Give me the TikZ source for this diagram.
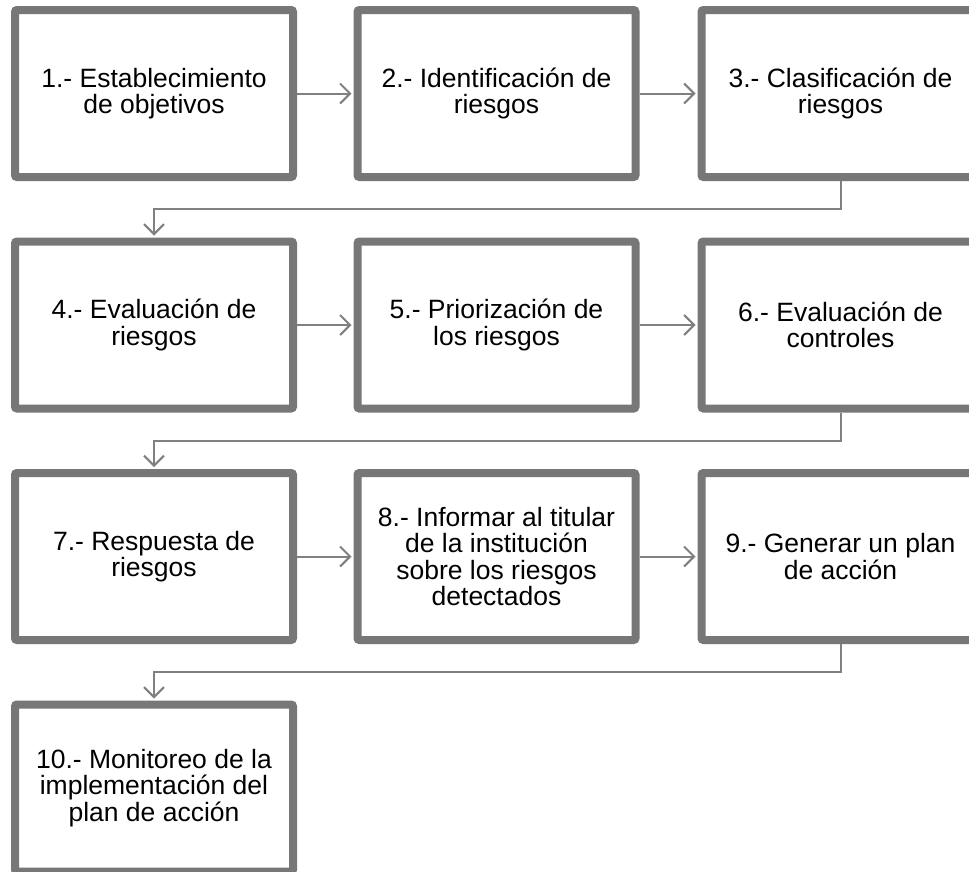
\documentclass[tikz,border=0pt]{standalone}
\usepackage{fontspec}
\setmainfont{Liberation Sans}
\usetikzlibrary{arrows.meta,calc}
\definecolor{boxgray}{HTML}{777777}
\definecolor{linegray}{HTML}{808080}
\tikzset{
  stepbox/.style={draw=boxgray, line width=8pt, fill=white, rounded corners=2pt,
    minimum width=278pt, minimum height=167pt, inner sep=0pt, align=center,
    font=\fontsize{26.5}{26.3}\selectfont, text=black},
  conn/.style={draw=linegray, line width=2pt,
    -{Straight Barb[length=10pt,width=20pt,line width=2pt]}, shorten >=2pt},
}
\begin{document}
\begin{tikzpicture}[x=1pt,y=-1pt]
\clip (0,0) rectangle (969,871);
\fill[white] (0,0) rectangle (969,871);
\node[stepbox] (b1) at (154,93.5) {1.- Establecimiento\\de objetivos};
\node[stepbox] (b2) at (496.5,93.5) {2.- Identificación de\\riesgos};
\node[stepbox] (b3) at (840.5,93.5) {3.- Clasificación de\\riesgos};
\node[stepbox] (b4) at (154,325) {4.- Evaluación de\\riesgos};
\node[stepbox] (b5) at (496.5,325) {5.- Priorización de\\los riesgos};
\node[stepbox] (b6) at (840.5,325) {6.- Evaluación de\\controles};
\node[stepbox] (b7) at (154,556.5) {7.- Respuesta de\\riesgos};
\node[stepbox] (b8) at (496.5,556.5) {8.- Informar al titular\\de la institución\\sobre los riesgos\\detectados};
\node[stepbox] (b9) at (840.5,556.5) {9.- Generar un plan\\de acción};
\node[stepbox] (b10) at (154,788) {10.- Monitoreo de la\\implementación del\\plan de acción};
\draw[conn] (b1) -- (b2);
\draw[conn] (b2) -- (b3);
\draw[conn] (b4) -- (b5);
\draw[conn] (b5) -- (b6);
\draw[conn] (b7) -- (b8);
\draw[conn] (b8) -- (b9);
\draw[conn] (b3.south) -- ++(0,27.5) -| (b4.north);
\draw[conn] (b6.south) -- ++(0,28) -| (b7.north);
\draw[conn] (b9.south) -- ++(0,28) -| (b10.north);
\end{tikzpicture}
\end{document}
